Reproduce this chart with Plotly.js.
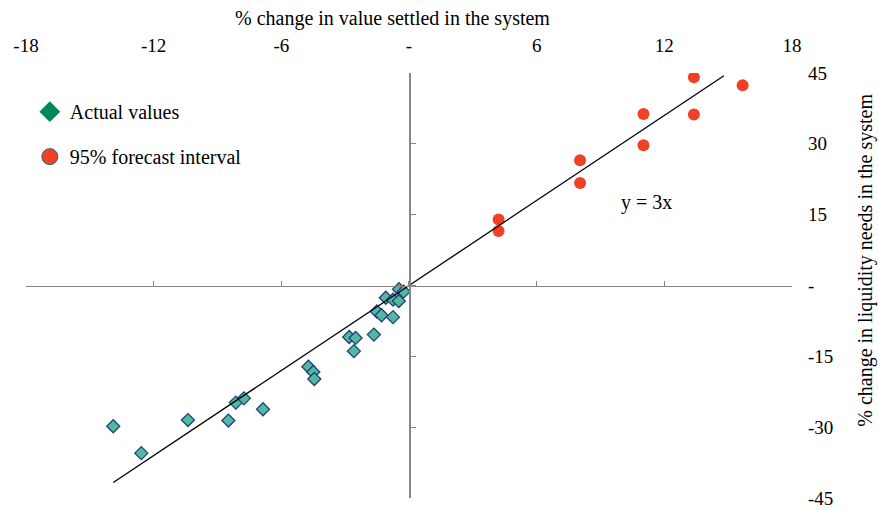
<!DOCTYPE html>
<html>
<head>
<meta charset="utf-8">
<script src="https://cdn.plot.ly/plotly-3.0.1.min.js"></script>
<style>html,body{margin:0;padding:0;background:#fff;}#chart{width:879px;height:510px;}</style>
</head>
<body>
<div id="chart"></div>
<script>
// Actual values (x: % change in value settled, y: % change in liquidity needs)
const actualX = [-13.9, -12.58, -10.39, -8.49, -8.14, -7.76, -6.86, -4.73, -4.50, -4.45, -2.81, -2.51, -2.59, -1.65, -1.51, -1.29, -1.09, -0.75, -0.48, -0.75, -0.47, -0.25];
const actualY = [-29.8, -35.5, -28.5, -28.6, -24.8, -23.9, -26.2, -17.2, -18.3, -19.8, -10.9, -11.1, -13.9, -10.4, -5.5, -6.3, -2.6, -3.0, -3.3, -6.7, -0.8, -1.3];
// 95% forecast interval
const forecastX = [4.21, 4.21, 8.04, 8.04, 11.02, 11.02, 13.39, 13.39, 15.68];
const forecastY = [14.0, 11.55, 26.5, 21.7, 36.3, 29.7, 44.1, 36.2, 42.4];
// y = 3x reference line end points
const lineX = [-13.9, 14.8];
const lineY = [-41.7, 44.4];
// ticks
const xTicks = [-18, -12, -6, 0, 6, 12, 18];
const xTickText = ['-18', '-12', '-6', '-', '6', '12', '18'];
const yTicks = [-45, -30, -15, 0, 15, 30, 45];
const yTickText = ['-45', '-30', '-15', '-', '15', '30', '45'];
// titles
const xTitle = '% change in value settled in the system';
const yTitle = '% change in liquidity needs in the system';

const FONT = 'Liberation Serif, Times New Roman, serif';
const FS = 20;
const TFS = 19;
const AXIS_GREY = '#868686';

const traces = [
  {x: lineX, y: lineY, xaxis: 'x2', yaxis: 'y2', mode: 'lines', type: 'scatter',
   line: {color: '#000000', width: 1.3}, showlegend: false, hoverinfo: 'skip'},
  {x: actualX, y: actualY, mode: 'markers', type: 'scatter', name: 'Actual values', showlegend: false,
   marker: {symbol: 'diamond', size: 10, color: '#52BA9C', line: {color: '#1F3F86', width: 1.3}}},
  {x: forecastX, y: forecastY, mode: 'markers', type: 'scatter', name: '95% forecast interval', showlegend: false,
   marker: {symbol: 'circle', size: 12, color: '#F04126', line: {width: 0}}},
  // legend entries
  {x: [null], y: [null], mode: 'markers', type: 'scatter', name: 'Actual values', legendgroup: 'a',
   marker: {symbol: 'diamond', size: 16, color: '#00875A', line: {width: 0}}},
  {x: [null], y: [null], mode: 'markers', type: 'scatter', name: '95% forecast interval', legendgroup: 'b',
   marker: {symbol: 'circle', size: 16, color: '#EF4124', line: {color: '#2B5F7A', width: 1}}}
];

const layout = {
  width: 879, height: 510,
  margin: {l: 26, r: 87, t: 73, b: 12},
  paper_bgcolor: '#ffffff', plot_bgcolor: '#ffffff',
  font: {family: FONT, size: FS, color: '#000000'},
  showlegend: true,
  legend: {x: 0.005, y: 0.955, xanchor: 'left', yanchor: 'top', bgcolor: 'rgba(0,0,0,0)',
           font: {family: FONT, size: FS, color: '#000000'}, tracegroupgap: 16, traceorder: 'grouped'},
  xaxis: {side: 'top', range: [-18, 18], tickmode: 'array', tickvals: xTicks, ticktext: xTickText,
          showgrid: false, zeroline: false, showline: false, ticks: '', ticklabelstandoff: 16,
          ticklabeloverflow: 'allow', fixedrange: true, tickfont: {family: FONT, size: TFS}},
  yaxis: {side: 'right', range: [-45, 45], tickmode: 'array', tickvals: yTicks, ticktext: yTickText,
          showgrid: false, zeroline: false, showline: false, ticks: '', ticklabelstandoff: 15,
          ticklabeloverflow: 'allow', fixedrange: true, tickfont: {family: FONT, size: TFS}},
  xaxis2: {overlaying: 'x', anchor: 'free', position: 0.5, side: 'bottom', range: [-18, 18],
           tickmode: 'array', tickvals: xTicks, showticklabels: false, ticks: 'inside', ticklen: 5,
           tickcolor: AXIS_GREY, tickwidth: 1.3, showline: true, linecolor: AXIS_GREY, linewidth: 1.5,
           showgrid: false, zeroline: false, fixedrange: true},
  yaxis2: {overlaying: 'y', anchor: 'free', position: 0.5, side: 'left', range: [-45, 45],
           tickmode: 'array', tickvals: yTicks, showticklabels: false, ticks: 'inside', ticklen: 5,
           tickcolor: AXIS_GREY, tickwidth: 1.3, showline: true, linecolor: AXIS_GREY, linewidth: 1.5,
           showgrid: false, zeroline: false, fixedrange: true},
  annotations: [
    {x: 11.14, y: 17.5, xref: 'x', yref: 'y', text: 'y = 3x', showarrow: false,
     font: {family: FONT, size: FS, color: '#000000'}},
    {x: 0.479, y: 1.129, xref: 'paper', yref: 'paper', text: xTitle, showarrow: false,
     xanchor: 'center', yanchor: 'middle', font: {family: FONT, size: FS, color: '#000000'}},
    {x: 1.095, y: 0.56, xref: 'paper', yref: 'paper', text: yTitle, showarrow: false, textangle: -90,
     xanchor: 'center', yanchor: 'middle', font: {family: FONT, size: FS, color: '#000000'}}
  ]
};

Plotly.newPlot('chart', traces, layout, {displayModeBar: false, staticPlot: true});
</script>
</body>
</html>
